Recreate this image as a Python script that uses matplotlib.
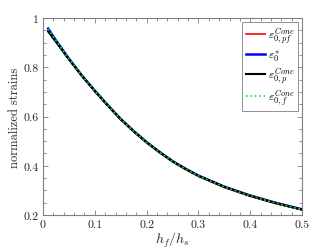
import matplotlib
matplotlib.use("Agg")
import matplotlib.pyplot as plt
from matplotlib.ticker import MultipleLocator, FuncFormatter

plt.rcParams['font.family'] = ['cmr10', 'DejaVu Serif']
plt.rcParams['mathtext.fontset'] = 'cm'
plt.rcParams['axes.formatter.use_mathtext'] = True

x_vals = [0.01, 0.025, 0.05, 0.075, 0.1, 0.125, 0.15, 0.175, 0.2, 0.225, 0.25, 0.275, 0.3, 0.35, 0.4, 0.45, 0.5]
eps_pf = [0.950, 0.905, 0.832, 0.764, 0.702, 0.643, 0.587, 0.538, 0.493, 0.453, 0.416, 0.385, 0.357, 0.312, 0.276, 0.246, 0.221]
eps_star = [0.957, 0.909, 0.835, 0.767, 0.705, 0.646, 0.590, 0.541, 0.496, 0.456, 0.419, 0.388, 0.360, 0.315, 0.279, 0.249, 0.223]
eps_p = [0.945, 0.903, 0.832, 0.765, 0.703, 0.645, 0.589, 0.540, 0.495, 0.455, 0.418, 0.387, 0.359, 0.314, 0.278, 0.248, 0.222]
eps_f = [0.956, 0.908, 0.834, 0.766, 0.704, 0.645, 0.589, 0.540, 0.495, 0.455, 0.418, 0.387, 0.359, 0.314, 0.278, 0.248, 0.222]

labels = [r'$\varepsilon_{0,pf}^{Cone}$', r'$\varepsilon_{0}^{*}$',
          r'$\varepsilon_{0,p}^{Cone}$', r'$\varepsilon_{0,f}^{Cone}$']

fig = plt.figure(figsize=(3.34, 2.51), dpi=100)
ax = fig.add_axes([0.1287, 0.1394, 0.7756, 0.7849])

ax.plot(x_vals, eps_pf, color='red', lw=1.2, label=labels[0])
ax.plot(x_vals, eps_star, color='blue', lw=1.8, label=labels[1])
ax.plot(x_vals, eps_p, color='black', lw=1.5, label=labels[2])
ax.plot(x_vals, eps_f, color='#00ee00', lw=1.2, ls=':', label=labels[3])

ax.set_xlim(0, 0.5)
ax.set_ylim(0.2, 1.0)
ax.xaxis.set_major_locator(MultipleLocator(0.1))
ax.xaxis.set_minor_locator(MultipleLocator(0.02))
ax.yaxis.set_major_locator(MultipleLocator(0.2))
ax.yaxis.set_minor_locator(MultipleLocator(0.05))
fmt = FuncFormatter(lambda v, p: ('%g' % round(v, 3)))
ax.xaxis.set_major_formatter(fmt)
ax.yaxis.set_major_formatter(fmt)

for s in ax.spines.values():
    s.set_color('0.5')
    s.set_linewidth(0.8)
ax.tick_params(which='both', direction='in', top=True, right=True, color='0.5',
               labelsize=8.5, labelcolor='0.15', width=0.6)
ax.tick_params(which='major', length=3.5, pad=3)
ax.tick_params(which='minor', length=2)

ax.set_xlabel(r'$h_f/h_s$', fontsize=10, color='0.15', labelpad=1)
ax.set_ylabel('normalized strains', fontsize=9, color='0.15', labelpad=2)

leg = ax.legend(loc='upper right', fontsize=8.5, fancybox=False, edgecolor='0.5',
                framealpha=1, handlelength=1.6, handletextpad=0.3, labelspacing=0.2,
                borderpad=0.3, borderaxespad=0.3)
leg.get_frame().set_linewidth(0.6)

fig.savefig('out.png', dpi=100)
